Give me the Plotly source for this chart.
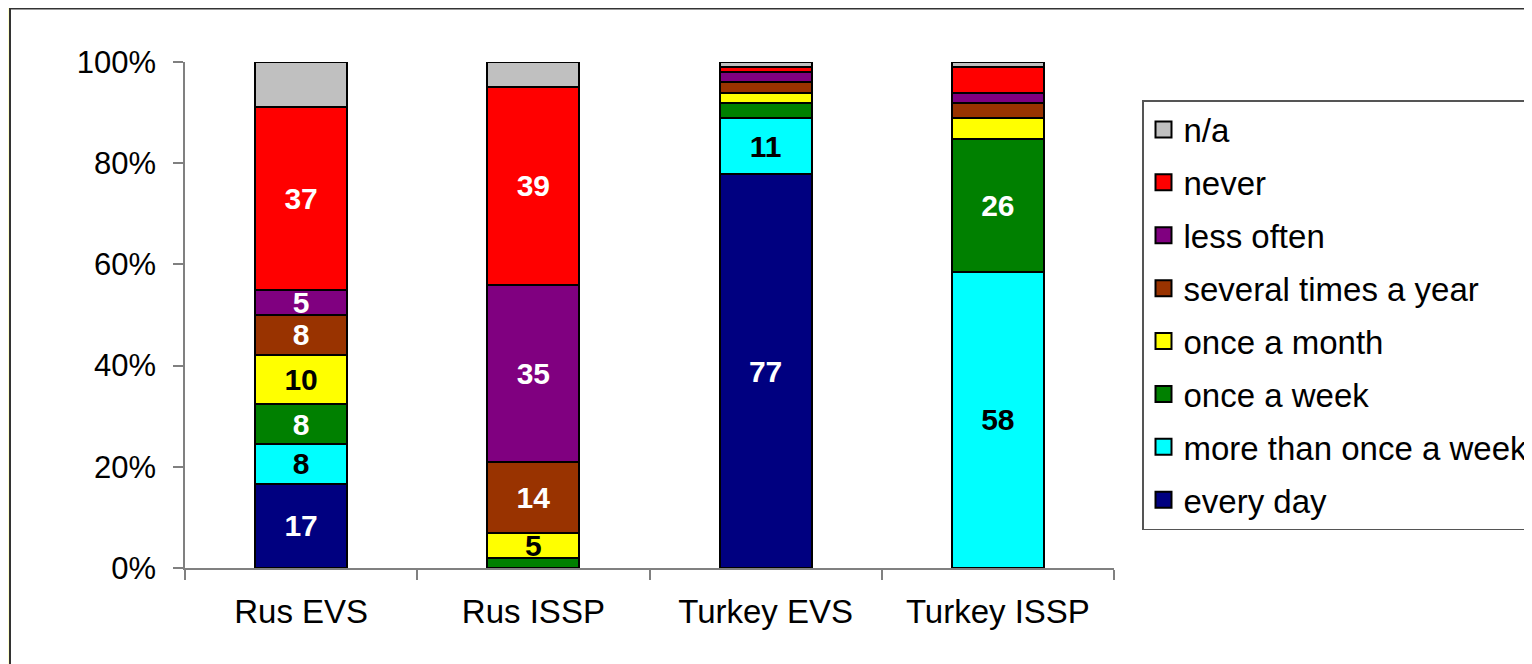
import plotly.graph_objects as go

categories = ["Rus EVS", "Rus ISSP", "Turkey EVS", "Turkey ISSP"]

# series, bottom to top of each stacked bar (values as printed; bars are 100% normalised)
series_names = ["every day", "more than once a week", "once a week", "once a month",
                "several times a year", "less often", "never", "n/a"]
every_day = [17, 0, 77, 0]
more_than_once_a_week = [8, 0, 11, 58]
once_a_week = [8, 2, 3, 26]
once_a_month = [10, 5, 2, 4]
several_times_a_year = [8, 14, 2, 3]
less_often = [5, 35, 2, 2]
never = [37, 39, 1, 5]
n_a = [9, 5, 1, 1]

y_tick_values = [0, 20, 40, 60, 80, 100]
y_tick_labels = ["0%", "20%", "40%", "60%", "80%", "100%"]

# which segments carry a value label in the original
labelled = {
    "every day": [True, False, True, False],
    "more than once a week": [True, False, True, True],
    "once a week": [True, False, False, True],
    "once a month": [True, True, False, False],
    "several times a year": [True, True, False, False],
    "less often": [True, True, False, False],
    "never": [True, True, False, False],
    "n/a": [False, False, False, False],
}

colors = {
    "every day": "#000080",
    "more than once a week": "#00FFFF",
    "once a week": "#008000",
    "once a month": "#FFFF00",
    "several times a year": "#993300",
    "less often": "#800080",
    "never": "#FF0000",
    "n/a": "#C0C0C0",
}
label_colors = {
    "every day": "white",
    "more than once a week": "black",
    "once a week": "white",
    "once a month": "black",
    "several times a year": "white",
    "less often": "white",
    "never": "white",
    "n/a": "black",
}

values = [every_day, more_than_once_a_week, once_a_week, once_a_month,
          several_times_a_year, less_often, never, n_a]

FONT = "Liberation Sans, Arial, sans-serif"

fig = go.Figure()
for name, vals in zip(series_names, values):
    texts = [str(v) if show else "" for v, show in zip(vals, labelled[name])]
    fig.add_trace(go.Bar(
        x=categories,
        y=[v if v > 0 else None for v in vals],
        name=name,
        marker=dict(color=colors[name], line=dict(color="black", width=2)),
        text=texts,
        textposition="inside",
        insidetextanchor="middle",
        textangle=0,
        constraintext="none",
        textfont=dict(family=FONT, size=30, color=label_colors[name], weight="bold"),
        showlegend=False,
        hoverinfo="skip",
    ))

# legend entries (n/a on top, every day at bottom)
for name in reversed(series_names):
    fig.add_trace(go.Scatter(
        x=[None], y=[None], mode="markers", name=name,
        legendgroup=name,
        marker=dict(symbol="square", size=16, color=colors[name],
                    line=dict(color="black", width=2)),
        showlegend=True,
    ))

# the page body adds an 8px offset; lay out in reference pixels minus that offset
OFF = 8
W, H = 1532 - OFF, 664 - OFF
L, R, T, B = 185 - OFF, 1114 - OFF, 62 - OFF, 568 - OFF
pw, ph = R - L, B - T

def px_x(x):
    return (x - OFF - L) / pw

def px_y(y):
    return (B - (y - OFF)) / ph

fig.add_shape(type="rect", xref="paper", yref="paper",
              x0=px_x(10), x1=px_x(1600), y0=px_y(8.5), y1=px_y(720),
              fillcolor="white", line=dict(color="#333333", width=2), layer="below")

fig.update_layout(
    width=W, height=H,
    barmode="stack", barnorm="percent", bargap=0.603,
    paper_bgcolor="#FFFFCC", plot_bgcolor="white",
    margin=dict(l=L, r=W - R, t=T, b=H - B, autoexpand=False),
    font=dict(family=FONT, size=33, color="black"),
    legend=dict(
        x=px_x(1142), y=px_y(100), xanchor="left", yanchor="top",
        bgcolor="white", bordercolor="#555555", borderwidth=1.5,
        font=dict(family=FONT, size=33, color="black"),
        traceorder="grouped", tracegroupgap=7, itemsizing="trace",
    ),
    xaxis=dict(
        showgrid=False, showline=True, linecolor="#808080", linewidth=1.5,
        ticks="outside", ticklen=10, tickcolor="#808080", tickwidth=1.5,
        tickson="boundaries", ticklabelstandoff=14,
        tickfont=dict(family=FONT, size=33, color="black"),
        fixedrange=True,
    ),
    yaxis=dict(
        range=[0, 100], tickvals=y_tick_values, ticktext=y_tick_labels,
        showgrid=False, zeroline=False, showline=True, linecolor="#808080", linewidth=1.5,
        ticks="outside", ticklen=10, tickcolor="#808080", tickwidth=1.5,
        ticklabelstandoff=11,
        tickfont=dict(family=FONT, size=31, color="black"),
        fixedrange=True,
    ),
)

fig.write_html("out.html")
